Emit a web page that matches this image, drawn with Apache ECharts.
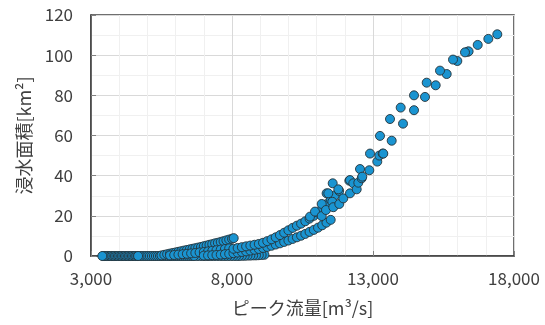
<!DOCTYPE html>
<html>
<head>
<meta charset="utf-8">
<script src="https://cdn.jsdelivr.net/npm/echarts@6/dist/echarts.min.js"></script>
<style>
  html, body { margin: 0; padding: 0; background: #fff; }
  #chart { width: 545px; height: 325px; }
</style>
</head>
<body>
<div id="chart"></div>
<script>
// ピーク流量[m3/s] と 浸水面積[km2] の組
// 0 km2 の列 (3つの並び、x降順に描画)
const zeroRunA = [[4640,0],[4590,0],[4540,0],[4490,0],[4440,0],[4390,0],[4340,0],[4290,0],[4240,0],[4190,0],[4140,0],[4090,0],[4040,0],[3990,0],[3940,0],[3890,0],[3840,0],[3790,0],[3740,0],[3690,0],[3640,0],[3590,0],[3540,0],[3490,0],[3440,0],[3400,0]]
const zeroRunB = [[6600,0],[6530,0],[6460,0],[6390,0],[6320,0],[6250,0],[6180,0],[6110,0],[6040,0],[5970,0],[5900,0],[5830,0],[5760,0],[5690,0],[5620,0],[5550,0],[5480,0],[5410,0],[5340,0],[5270,0],[5200,0],[5130,0],[5060,0],[4990,0],[4920,0],[4850,0],[4780,0],[4720,0],[4670,0]]
const zeroRunC = [[9150,0.6],[9050,0.5],[8950,0.4],[8850,0.3],[8750,0.3],[8650,0.2],[8550,0.2],[8450,0.1],[8350,0.1],[8250,0],[8150,0],[8050,0],[7950,0],[7850,0],[7750,0],[7650,0],[7550,0],[7450,0],[7350,0],[7250,0],[7150,0],[7050,0],[6950,0],[6850,0],[6750,0],[6650,0]]

// 左側の上の曲線 (8,000付近で終わる)
const curveLeft = [[5500,0.3],[5600,0.6],[5700,0.9],[5800,1.2],[5900,1.5],[6000,1.8],[6100,2.1],[6200,2.4],[6300,2.7],[6400,3.0],[6500,3.3],[6600,3.6],[6700,3.9],[6800,4.2],[6900,4.5],[7000,4.9],[7100,5.2],[7200,5.6],[7300,5.9],[7400,6.3],[7500,6.6],[7600,7.0],[7700,7.4],[7800,7.8],[7900,8.2],[8000,8.6],[8060,8.9]]

// 中間の曲線
const curveMid = [[5800,0.3],[5950,0.5],[6100,0.7],[6250,0.9],[6400,1.1],[6550,1.3],[6700,1.5],[6850,1.8],[7000,2.0],[7150,2.3],[7300,2.6],[7450,2.9],[7600,3.2],[7750,3.5],[7900,3.8]]

// 右側の2本の帯
const bandUpper = [[8050,3.6],[8200,4.0],[8350,4.4],[8500,4.8],[8650,5.2],[8800,5.6],[8950,6.0],[9100,6.6],[9250,7.4],[9400,8.3],[9550,9.3],[9700,10.4],[9850,11.6],[10000,12.8],[10150,14.0],[10300,15.1],[10450,16.1],[10600,17.3],[10750,18.6],[10900,20.0],[11050,21.6],[11200,23.6],[11350,25.8],[11500,28.0],[11650,30.2],[11800,32.4]]
const bandLower = [[7000,0.2],[7150,0.3],[7300,0.4],[7450,0.5],[7600,0.7],[7750,0.9],[7900,1.1],[8050,1.4],[8200,1.7],[8350,2.0],[8500,2.3],[8650,2.7],[8800,3.1],[8950,3.5],[9100,4.0],[9250,4.5],[9400,5.1],[9550,5.7],[9700,6.3],[9850,7.0],[10000,7.7],[10150,8.5],[10300,9.3],[10450,10.1],[10600,11.0],[10750,12.0],[10900,13.0],[11050,14.1],[11200,15.3],[11350,16.6],[11500,18.0]]

// ばらつきのある点
const scatterMid = [[10766,19.6],[10943,22.1],[11181,19.9],[11181,25.9],[11333,22.9],[11355,31.2],[11415,31.2],[11557,27],[11571,36.2],[11592,24.3],[11770,33.2],[11805,25.9],[11947,28.7],[12160,37.5],[12184,31.2],[12184,37.8],[12301,36.2],[12422,33.2],[12479,36.5],[12539,43.3],[12599,38.7],[12620,39.5],[12869,42.7],[12894,51],[13152,47],[13223,50],[13343,51],[13365,51]]

// 上部の点
const topA = [[13248,59.8],[13603,68.2],[13982,73.9],[14454,80],[14904,86.3],[15376,92.3],[15837,97.8],[16262,101.4],[16713,105.1],[17090,108.1],[17408,110.4]]
const topB = [[13663,57.4],[14064,65.9],[14454,72.6],[14844,79.2],[15223,85],[15613,90.6],[15990,97.1],[16358,101.7],[16390,101.9]]

const xTicks = { min: 3000, max: 18000, step: 5000 }
const yTicks = { min: 0, max: 120, step: 20 }

const groups = [zeroRunA, zeroRunB, zeroRunC, curveLeft, curveMid, bandLower, bandUpper, scatterMid, topB, topA]

const textColor = '#404040'
const font = 'Noto Sans CJK JP'

const myChart = echarts.init(document.getElementById('chart'), null, { renderer: 'canvas' })
const option = {
    animation: false,
    backgroundColor: '#fff',
    grid: {
        left: 91,
        right: 31,
        top: 15,
        bottom: 69,
        show: true,
        borderColor: '#404040',
        borderWidth: 1.5
    },
    xAxis: {
        type: 'value',
        min: xTicks.min,
        max: xTicks.max,
        interval: xTicks.step,
        name: 'ピーク流量[m³/s]',
        nameLocation: 'middle',
        nameGap: 43,
        nameTextStyle: { color: textColor, fontSize: 18, fontFamily: font },
        axisLine: { show: true, lineStyle: { color: '#404040', width: 1.5 } },
        axisTick: { show: true, inside: true, length: 5, lineStyle: { color: '#808080' } },
        axisLabel: {
            color: textColor,
            fontSize: 17,
            fontFamily: font,
            margin: 14,
            formatter: v => v.toLocaleString('en-US')
        },
        splitLine: { show: true, lineStyle: { color: '#d9d9d9', width: 1 } },
        minorTick: { show: false, splitNumber: 5 },
        minorSplitLine: { show: true, lineStyle: { color: '#f0f0f0', width: 1 } }
    },
    yAxis: {
        type: 'value',
        min: yTicks.min,
        max: yTicks.max,
        interval: yTicks.step,
        name: '浸水面積[km²]',
        nameLocation: 'middle',
        nameGap: 58,
        nameRotate: 90,
        nameTextStyle: { color: textColor, fontSize: 18, fontFamily: font },
        axisLine: { show: true, lineStyle: { color: '#404040', width: 1.5 } },
        axisTick: { show: true, inside: true, length: 5, lineStyle: { color: '#808080' } },
        axisLabel: { color: textColor, fontSize: 17, fontFamily: font, margin: 18 },
        splitLine: { show: true, lineStyle: { color: '#d9d9d9', width: 1 } },
        minorTick: { show: false, splitNumber: 2 },
        minorSplitLine: { show: true, lineStyle: { color: '#f0f0f0', width: 1 } }
    },
    series: groups.map(g => ({
        type: 'scatter',
        data: g,
        symbol: 'circle',
        symbolSize: 9,
        itemStyle: {
            color: '#1a94d1',
            borderColor: '#263238',
            borderWidth: 0.9,
            opacity: 1
        }
    }))
}
myChart.setOption(option)
</script>
</body>
</html>
